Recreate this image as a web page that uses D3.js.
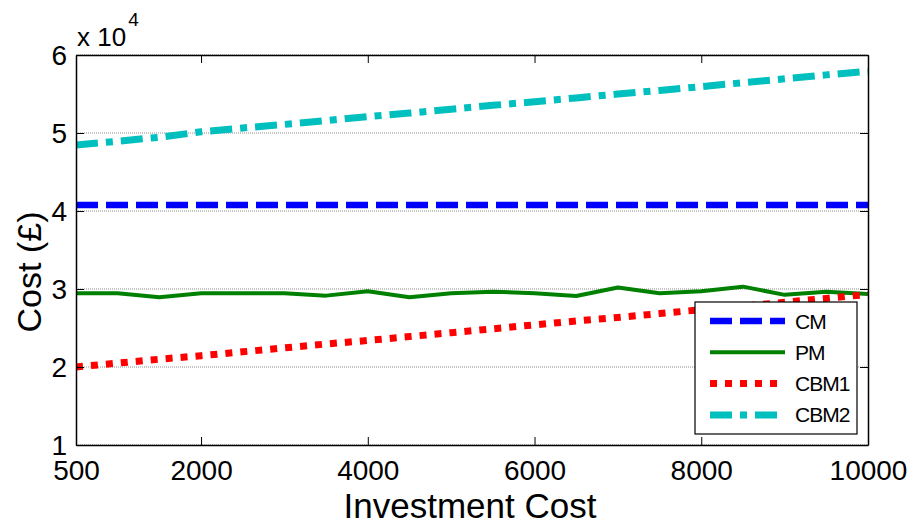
<!DOCTYPE html>
<html>
<head>
<meta charset="utf-8">
<script src="https://cdn.jsdelivr.net/npm/d3@7"></script>
<style>
  html, body { margin: 0; padding: 0; background: #fff; }
  svg { display: block; font-family: "Liberation Sans", Arial, Helvetica, sans-serif; }
</style>
</head>
<body>
<div id="chart"></div>
<script>
// investment cost (x) and cost of each strategy (y)
const investCost = [500, 1000, 1500, 2000, 2500, 3000, 3500, 4000, 4500, 5000,
                    5500, 6000, 6500, 7000, 7500, 8000, 8500, 9000, 9500, 10000];
const cmCost   = investCost.map(() => 40770);
const pmCost   = [29450, 29450, 28950, 29450, 29450, 29450, 29150, 29700, 28950, 29450,
                  29650, 29450, 29100, 30200, 29450, 29700, 30300, 29250, 29650, 29350];
const cbm1Cost = [20000, 20500, 21000, 21450, 21950, 22450, 22950, 23400, 23900, 24400,
                  24900, 25400, 25900, 26350, 26850, 27350, 27800, 28300, 28800, 29300];
const cbm2Cost = [48450, 48950, 49450, 50150, 50650, 51100, 51600, 52100, 52550, 53050,
                  53550, 54000, 54500, 55000, 55450, 55950, 56450, 56950, 57450, 57900];

const xTicks = [500, 2000, 4000, 6000, 8000, 10000];
const yTicks = [10000, 20000, 30000, 40000, 50000, 60000];

const seriesNames = ['CM', 'PM', 'CBM1', 'CBM2'];

const series = [
  { name: 'CM',   values: cmCost,   color: '#0000ff', width: 6.5, dash: '22,8' },
  { name: 'PM',   values: pmCost,   color: '#008000', width: 4,   dash: null },
  { name: 'CBM1', values: cbm1Cost, color: '#ff0000', width: 7,   dash: '7,8' },
  { name: 'CBM2', values: cbm2Cost, color: '#00bfbf', width: 7,   dash: '22,8,7,8' }
];

const W = 915, H = 525;
const margin = { left: 76, right: 47, top: 55, bottom: 80 };
const innerW = W - margin.left - margin.right;
const innerH = H - margin.top - margin.bottom;

const svg = d3.select('#chart').append('svg')
  .attr('width', W)
  .attr('height', H);

const x = d3.scaleLinear().domain([500, 10000]).range([0, innerW]);
const y = d3.scaleLinear().domain([10000, 60000]).range([innerH, 0]);

const g = svg.append('g').attr('transform', `translate(${margin.left},${margin.top})`);

// horizontal grid (dotted)
g.append('g')
  .selectAll('line')
  .data(yTicks)
  .join('line')
  .attr('x1', 0).attr('x2', innerW)
  .attr('y1', d => y(d)).attr('y2', d => y(d))
  .attr('stroke', '#8c8c8c')
  .attr('stroke-width', 1)
  .attr('stroke-dasharray', '1,1');

// clip for lines
svg.append('defs').append('clipPath').attr('id', 'plotclip')
  .append('rect').attr('width', innerW).attr('height', innerH);

const line = d3.line()
  .x((d, i) => x(investCost[i]))
  .y(d => y(d));

g.append('g').attr('clip-path', 'url(#plotclip)')
  .selectAll('path')
  .data(series)
  .join('path')
  .attr('d', d => line(d.values))
  .attr('fill', 'none')
  .attr('stroke', d => d.color)
  .attr('stroke-width', d => d.width)
  .attr('stroke-dasharray', d => d.dash)
  .attr('stroke-linejoin', 'round');

// axes (ticks pointing inward)
const fmtY = d => d / 10000;
const tickLen = 8;

const xBottom = g.append('g')
  .attr('transform', `translate(0,${innerH})`)
  .call(d3.axisBottom(x).tickValues(xTicks).tickSizeInner(-tickLen).tickSizeOuter(0)
    .tickPadding(15).tickFormat(d3.format('d')));
const xTop = g.append('g')
  .call(d3.axisTop(x).tickValues(xTicks).tickSizeInner(-tickLen).tickSizeOuter(0).tickFormat(''));
const yLeft = g.append('g')
  .call(d3.axisLeft(y).tickValues(yTicks).tickSizeInner(-tickLen).tickSizeOuter(0).tickFormat(fmtY).tickPadding(9));
const yRight = g.append('g')
  .attr('transform', `translate(${innerW},0)`)
  .call(d3.axisRight(y).tickValues(yTicks).tickSizeInner(-tickLen).tickSizeOuter(0).tickFormat(''));

[xBottom, xTop, yLeft, yRight].forEach(a => {
  a.select('.domain').attr('stroke', '#000').attr('stroke-width', 1.5);
  a.selectAll('.tick line').attr('stroke', '#000').attr('stroke-width', 1);
  a.selectAll('.tick text')
    .attr('fill', '#000')
    .attr('font-size', 28)
    .attr('font-family', '"Liberation Sans", Arial, sans-serif');
});
xBottom.selectAll('.tick text').attr('dy', '0.71em');
yLeft.selectAll('.tick text').attr('dy', '0.33em');

// exponent label
const expo = svg.append('text')
  .attr('x', margin.left + 1)
  .attr('y', 46)
  .attr('font-size', 26)
  .attr('fill', '#000');
expo.append('tspan').text('x 10');
expo.append('tspan').attr('dy', -20).attr('dx', 2).attr('font-size', 19).text('4');

// axis titles
svg.append('text')
  .attr('x', margin.left + innerW / 2 - 2)
  .attr('y', 518)
  .attr('text-anchor', 'middle')
  .attr('font-size', 35)
  .attr('fill', '#000')
  .text('Investment Cost');

svg.append('text')
  .attr('transform', 'translate(41,272) rotate(-90)')
  .attr('text-anchor', 'middle')
  .attr('font-size', 34)
  .attr('fill', '#000')
  .text('Cost (£)');

// legend
const legend = svg.append('g').attr('transform', 'translate(695,302)');
legend.append('rect')
  .attr('width', 162).attr('height', 132)
  .attr('fill', '#fff')
  .attr('stroke', '#000')
  .attr('stroke-width', 1.2);

const rows = legend.selectAll('.row')
  .data(series)
  .join('g')
  .attr('class', 'row')
  .attr('transform', (d, i) => `translate(0,${19 + i * 31.3})`);

rows.append('line')
  .attr('x1', 15).attr('x2', 90)
  .attr('y1', 0).attr('y2', 0)
  .attr('stroke', d => d.color)
  .attr('stroke-width', d => d.width)
  .attr('stroke-dasharray', d => d.dash);

rows.append('text')
  .attr('x', 100)
  .attr('y', 0)
  .attr('dy', '0.36em')
  .attr('font-size', 21)
  .attr('fill', '#000')
  .attr('letter-spacing', '-1')
  .text((d, i) => seriesNames[i]);
</script>
</body>
</html>
